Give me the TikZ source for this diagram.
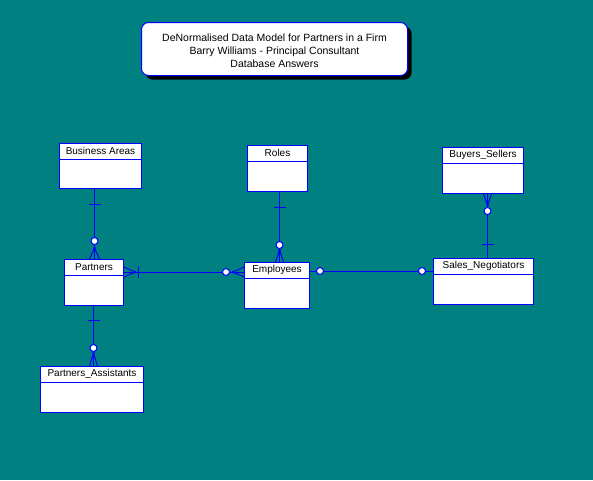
\documentclass[tikz,border=0pt]{standalone}
\usepackage{fontspec}
\setmainfont{Liberation Sans}
\usetikzlibrary{calc,shadows}
\definecolor{bg}{RGB}{0,128,128}
\definecolor{ln}{RGB}{0,0,255}
\tikzset{
  ent/.style={draw=ln, fill=white, line width=1pt, inner sep=0pt, anchor=north west},
  lbl/.style={font=\fontsize{10}{12}\selectfont, inner sep=0pt},
  rel/.style={draw=ln, line width=1pt},
  opt/.style={draw=ln, fill=white, line width=1pt},
  jdot/.style={fill=ln},
  titlebox/.style={draw=ln, fill=white, line width=1pt, rounded corners=7pt, inner sep=0pt, anchor=north west,
    drop shadow={shadow xshift=4pt, shadow yshift=-4pt, fill=black, opacity=1}},
  titletext/.style={font=\fontsize{10.5}{13}\selectfont, align=center, inner sep=0pt},
}
\newcommand{\entity}[6]{%
  \node[ent, minimum width={(#4-#2)*1pt}, minimum height={(#5-#3)*1pt}] (#1) at (#2,#3) {};
  \draw[rel] ($(#1.north west)+(0,16)$) -- ($(#1.north east)+(0,16)$);
  \node[lbl] (#1-t) at ($(#1.north)+(0,8)$) {#6};
}
\begin{document}
\begin{tikzpicture}[x=1pt,y=-1pt]
\fill[bg] (0,0) rectangle (593,480);
\useasboundingbox (0,0) rectangle (593,480);

% title
\node[titlebox, minimum width=266pt, minimum height=53pt] (title) at (141,22) {};
\node[titletext] (title-t) at ($(title.center)+(0,2)$) {DeNormalised Data Model for Partners in a Firm\\Barry Williams - Principal Consultant\\Database Answers};

% entities
\entity{ba}{59}{143}{141}{188}{Business Areas}
\entity{pa}{64}{259}{123}{305}{Partners}
\entity{ro}{247}{145}{307}{191}{Roles}
\entity{em}{244}{262}{309}{308}{Employees}
\entity{bs}{442}{147}{523}{193}{Buyers\_Sellers}
\entity{sn}{433}{258}{533}{304}{Sales\_Negotiators}
\entity{ps}{40}{366}{143}{412}{Partners\_Assistants}

% Business Areas -- Partners
\coordinate (a1) at ($(pa.north)+(0.5,0)$);
\coordinate (a0) at (a1 |- ba.south);
\draw[rel] (a0) -- (a1);
\draw[rel] ($(a0)+(-6,15)$) -- ($(a0)+(6,15)$);
\draw[rel] ($(a1)+(-5,0)$) -- ($(a1)+(0,-11)$) -- ($(a1)+(5,0)$);
\fill[jdot] ($(a1)+(0,-11)$) circle (1.5);
\draw[opt] ($(a1)+(0,-18)$) circle (3.5);

% Partners -- Employees
\coordinate (b1) at ($(pa.north east)+(0,13)$);
\coordinate (b2) at (b1 -| em.west);
\draw[rel] (b1) -- (b2);
\draw[rel] ($(b1)+(0,-5)$) -- ($(b1)+(11,0)$) -- ($(b1)+(0,5)$);
\fill[jdot] ($(b1)+(11,0)$) circle (1.5);
\draw[rel] ($(b1)+(14,-6)$) -- ($(b1)+(14,6)$);
\draw[rel] ($(b2)+(0,-5)$) -- ($(b2)+(-11,0)$) -- ($(b2)+(0,5)$);
\fill[jdot] ($(b2)+(-11,0)$) circle (1.5);
\draw[opt] ($(b2)+(-18,0)$) circle (3.5);

% Roles -- Employees
\coordinate (c1) at ($(em.north)+(2.5,0)$);
\coordinate (c0) at (c1 |- ro.south);
\draw[rel] (c0) -- (c1);
\draw[rel] ($(c0)+(-6,15)$) -- ($(c0)+(6,15)$);
\draw[rel] ($(c1)+(-4,0)$) -- ($(c1)+(0,-12)$) -- ($(c1)+(4,0)$);
\fill[jdot] ($(c1)+(0,-12)$) circle (1.5);
\draw[opt] ($(c1)+(0,-17)$) circle (3.5);

% Employees -- Sales_Negotiators
\coordinate (d1) at ($(em.north east)+(0,9)$);
\coordinate (d2) at (d1 -| sn.west);
\draw[rel] (d1) -- (d2);
\draw[opt] ($(d1)+(10,0)$) circle (3.5);
\draw[opt] ($(d2)+(-11,0)$) circle (3.5);

% Buyers_Sellers -- Sales_Negotiators
\coordinate (e1) at ($(sn.north)+(4,0)$);
\coordinate (e2) at (e1 |- bs.south);
\draw[rel] (e2) -- (e1);
\draw[rel] ($(e2)+(-4,0)$) -- ($(e2)+(0,11)$) -- ($(e2)+(4,0)$);
\fill[jdot] ($(e2)+(0,11)$) circle (1.5);
\draw[opt] ($(e2)+(0,17)$) circle (3.5);
\draw[rel] ($(e1)+(-6,-14)$) -- ($(e1)+(6,-14)$);

% Partners -- Partners_Assistants
\coordinate (f1) at ($(ps.north)+(1.5,0)$);
\coordinate (f2) at (f1 |- pa.south);
\draw[rel] (f2) -- (f1);
\draw[rel] ($(f2)+(-6,14)$) -- ($(f2)+(6,14)$);
\draw[rel] ($(f1)+(-4,0)$) -- ($(f1)+(0,-13)$) -- ($(f1)+(4,0)$);
\fill[jdot] ($(f1)+(0,-13)$) circle (1.5);
\draw[opt] ($(f1)+(0,-18)$) circle (3.5);
\end{tikzpicture}
\end{document}
